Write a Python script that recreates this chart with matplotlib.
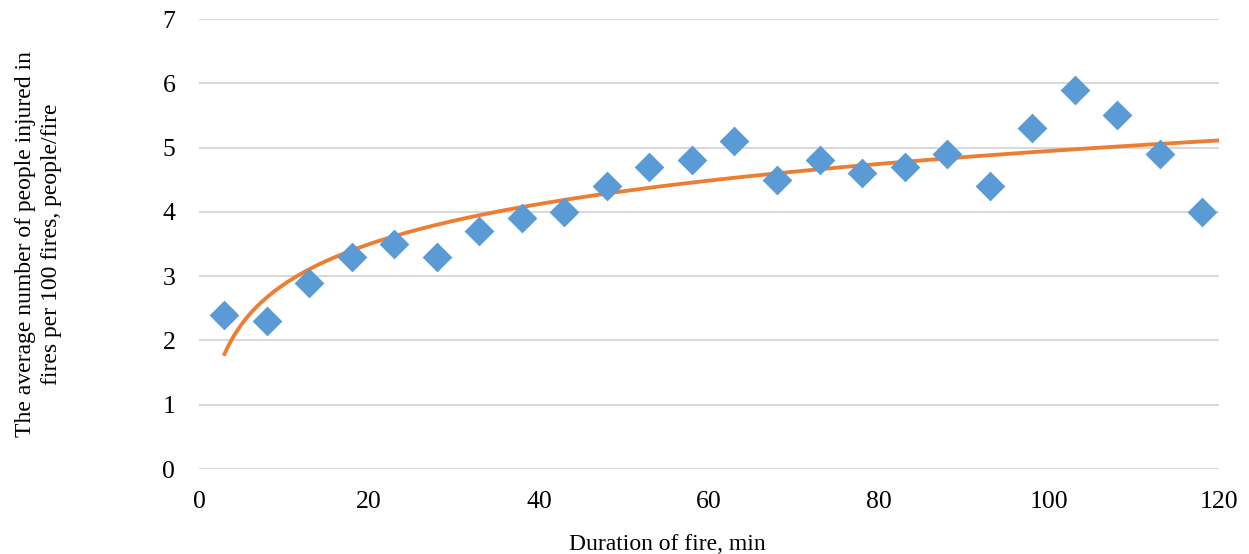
import numpy as np
import matplotlib.pyplot as plt

# Duration of fire (min) and injured people per 100 fires
duration = [3, 8, 13, 18, 23, 28, 33, 38, 43, 48, 53, 58, 63, 68, 73, 78, 83, 88, 93, 98, 103, 108, 113, 118]
injured = [2.4, 2.3, 2.9, 3.3, 3.5, 3.3, 3.7, 3.9, 4.0, 4.4, 4.7, 4.8, 5.1, 4.5, 4.8, 4.6, 4.7, 4.9, 4.4, 5.3, 5.9, 5.5, 4.9, 4.0]
x_ticks = [0, 20, 40, 60, 80, 100, 120]
y_ticks = [0, 1, 2, 3, 4, 5, 6, 7]

plt.rcParams["font.family"] = ["Liberation Serif", "DejaVu Serif"]

fig = plt.figure(figsize=(12.49, 5.54), dpi=100)
ax = fig.add_axes([0.1593, 0.1534, 0.8167, 0.8123])

# Logarithmic trend line, as in the spreadsheet chart
a, b = np.polyfit(np.log(duration), injured, 1)
xt = np.linspace(3, 120, 300)
ax.plot(xt, a * np.log(xt) + b, color="#ED7D31", linewidth=2.75, zorder=3)

ax.scatter(duration, injured, marker="D", s=230, color="#5B9BD5", linewidths=0, zorder=4)

ax.set_xlim(0, 120)
ax.set_ylim(0, 7)
ax.set_xticks(x_ticks)
ax.set_yticks(y_ticks)
ax.grid(axis="y", color="#D9D9D9", linewidth=1.5)
ax.set_axisbelow(True)
for s in ax.spines.values():
    s.set_visible(False)
ax.tick_params(length=0, labelsize=18.5, colors="#000000")
ax.tick_params(axis="y", pad=17)
ax.tick_params(axis="x", pad=16)

ax.set_xlabel("Duration of fire, min", fontsize=17)
ax.set_ylabel("The average number of people injured in\nfires per 100 fires, people/fire",
              fontsize=17, linespacing=1.3)
ax.xaxis.set_label_coords(0.459, -0.145)
ax.yaxis.set_label_coords(-0.134, 0.5)

fig.savefig("out.png", dpi=100)
